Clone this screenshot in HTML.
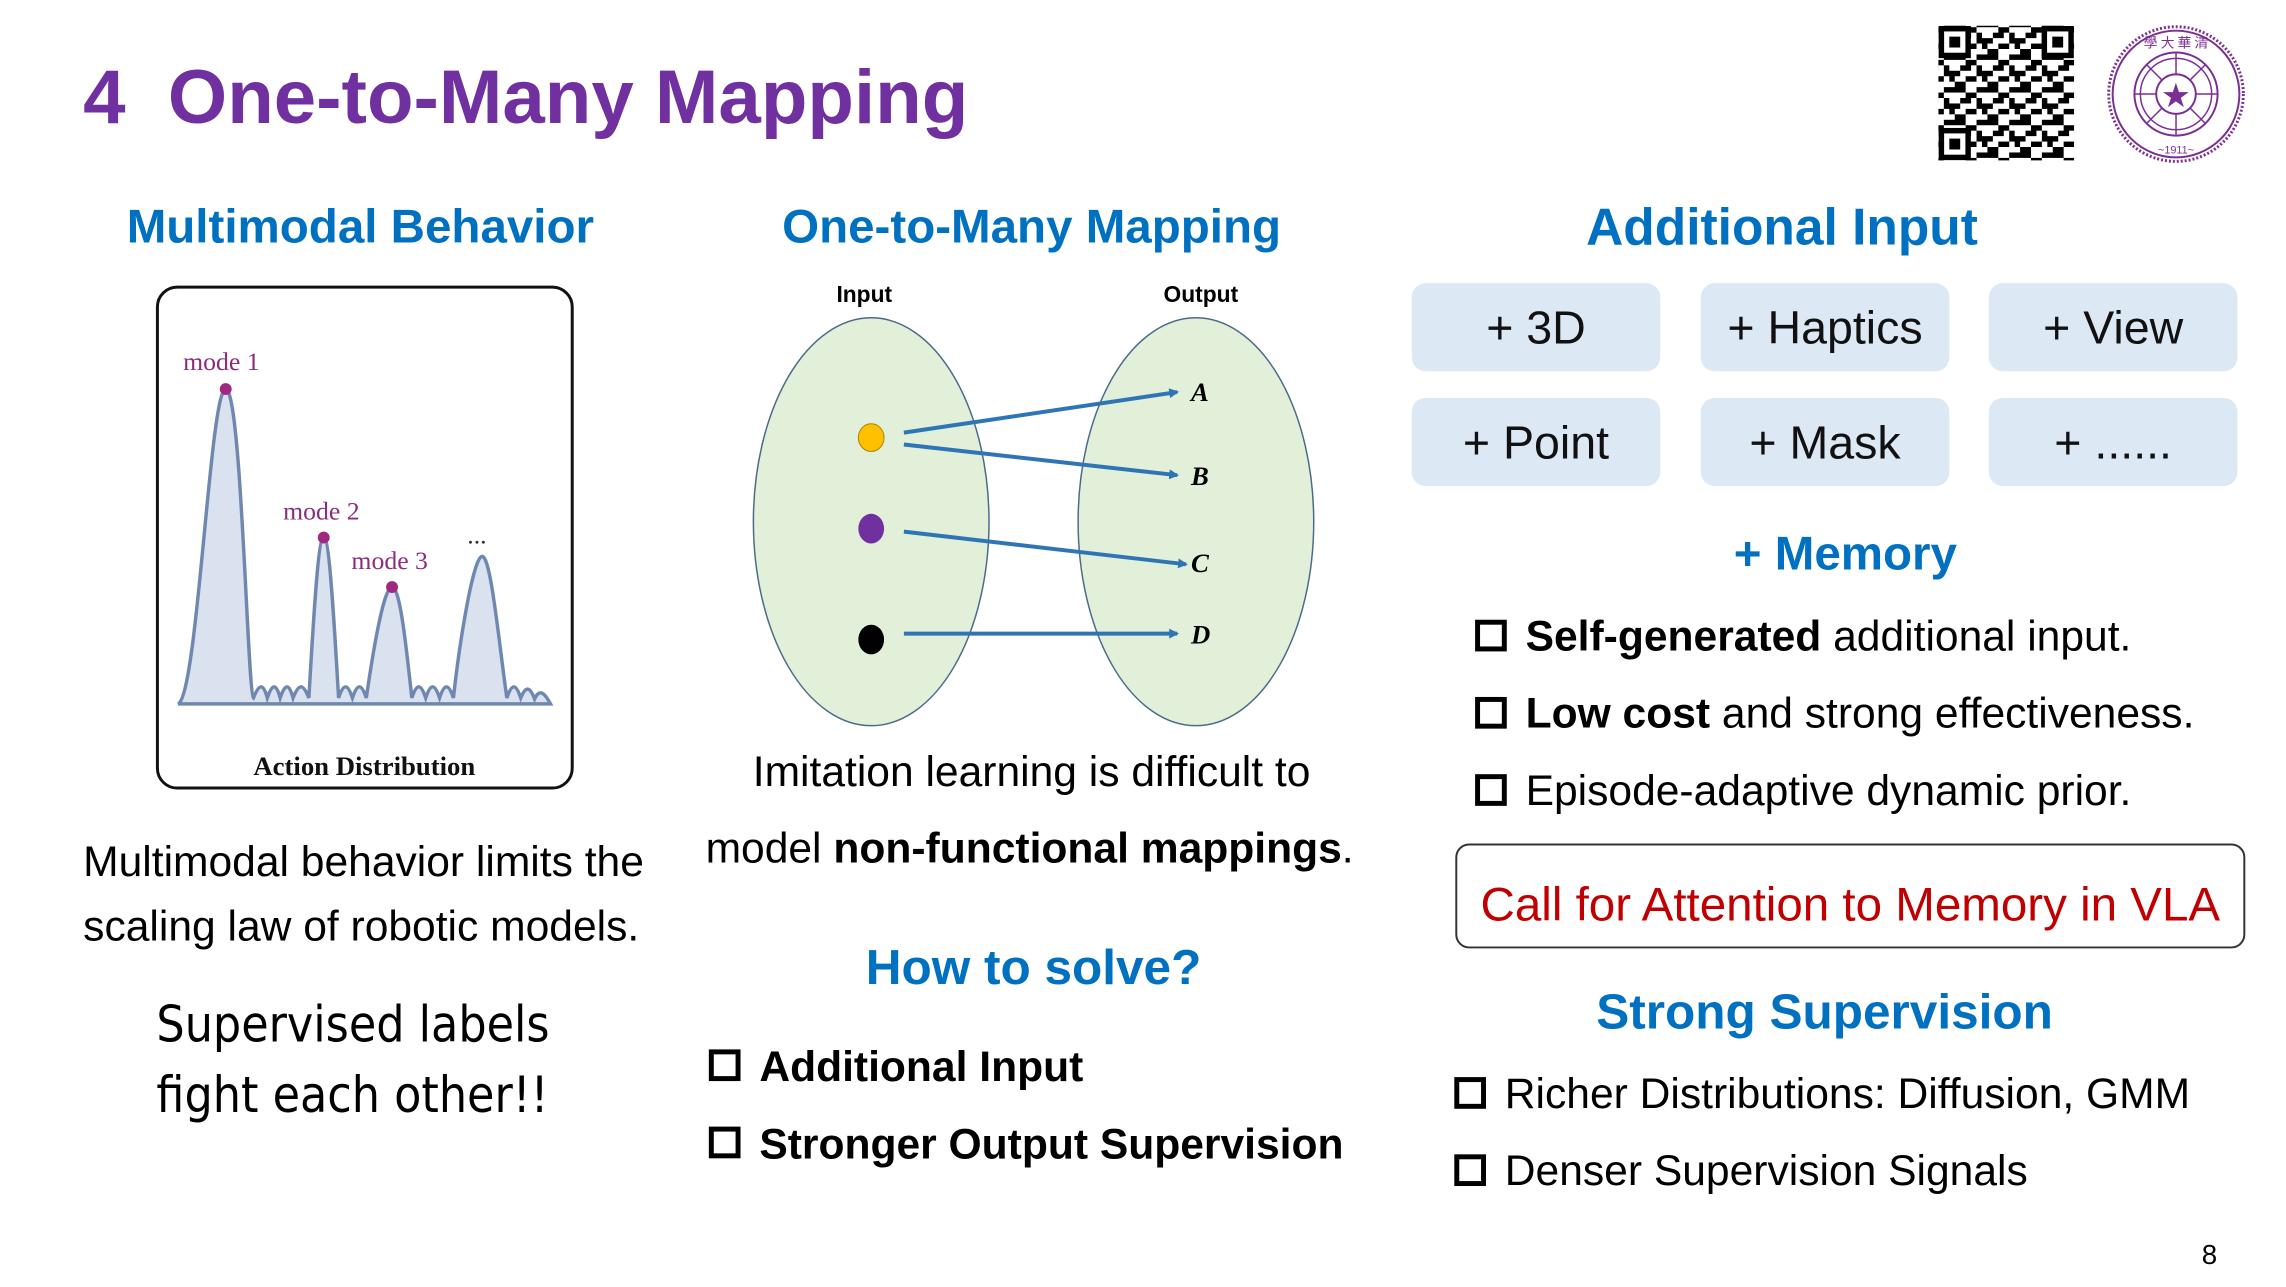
<!DOCTYPE html>
<html><head><meta charset="utf-8"><style>
html,body{margin:0;padding:0;background:#fff}
body{width:2286px;height:1286px;overflow:hidden;position:relative;font-family:"Liberation Sans",Arial,sans-serif}
#w{position:absolute;left:0;top:0;width:2310px;height:1300px;transform:scale(0.99);transform-origin:0 0}
.a{position:absolute;white-space:nowrap;line-height:1}
.h{color:#0070c0;font-weight:bold;font-size:48px;transform:translateX(-50%)}
.box{position:absolute;background:#dde8f5;border-radius:14px;width:251px;height:89px;display:flex;align-items:center;justify-content:center;font-size:47px;color:#111}
.cb{position:absolute;width:22px;height:22px;border:5px solid #000}
.t{font-size:43px;color:#000}
</style></head><body><div id="w">
<div class="a" style="left:84px;top:60px;font-size:77px;font-weight:bold;color:#7030a0">4&nbsp; One-to-Many Mapping</div>

<svg class="a" style="left:0;top:0" width="2310" height="1300">
<defs>
<pattern id="qr" width="33" height="33" patternUnits="userSpaceOnUse">
<rect x="0" y="0" width="11" height="5.5" fill="#000"/><rect x="16.5" y="0" width="5.5" height="11" fill="#000"/>
<rect x="5.5" y="11" width="11" height="5.5" fill="#000"/><rect x="22" y="5.5" width="11" height="5.5" fill="#000"/>
<rect x="0" y="16.5" width="5.5" height="11" fill="#000"/><rect x="16.5" y="22" width="11" height="5.5" fill="#000"/>
<rect x="27.5" y="16.5" width="5.5" height="11" fill="#000"/><rect x="11" y="27.5" width="5.5" height="5.5" fill="#000"/>
<rect x="5.5" y="27.5" width="5.5" height="5.5" fill="#000"/><rect x="22" y="11" width="5.5" height="5.5" fill="#000"/>
</pattern>
<marker id="ar" markerWidth="10" markerHeight="10" refX="8" refY="5" orient="auto" markerUnits="userSpaceOnUse"><path d="M0,0 L10,5 L0,10 z" fill="#2e75b6"/></marker>
</defs>
<rect x="1958" y="26" width="137" height="136" fill="url(#qr)"/>
<g fill="none" stroke="#000" stroke-width="5.5">
<rect x="1961" y="29" width="27" height="27" fill="#fff"/><rect x="2065" y="29" width="27" height="27" fill="#fff"/><rect x="1961" y="132" width="27" height="27" fill="#fff"/></g>
<rect x="1969" y="37" width="11" height="11"/><rect x="2073" y="37" width="11" height="11"/><rect x="1969" y="140" width="11" height="11"/>
<g fill="none" stroke="#7b2f93">
<circle cx="2198" cy="95" r="68" stroke-width="3" stroke-dasharray="2 2"/>
<circle cx="2198" cy="95" r="64" stroke-width="2"/>
<circle cx="2198" cy="95" r="42" stroke-width="2"/>
<circle cx="2198" cy="95" r="36" stroke-width="1.5"/>
<circle cx="2198" cy="95" r="20" stroke-width="2"/>
<path d="M2198,53 V75 M2198,115 V137 M2156,95 H2178 M2218,95 H2240 M2168,65 L2184,81 M2212,109 L2228,125 M2228,65 L2212,81 M2184,109 L2168,125" stroke-width="1.5"/>
</g>
<text x="2198" y="108" font-size="34" fill="#7b2f93" text-anchor="middle">★</text>
<text x="2198" y="155" font-size="11" fill="#7b2f93" text-anchor="middle">~1911~</text>
<text x="2198" y="48" font-size="14" fill="#7b2f93" text-anchor="middle" font-family="Noto Sans CJK SC,sans-serif">學 大 華 清</text>

<rect x="159" y="290" width="419" height="506" rx="20" fill="#fff" stroke="#111" stroke-width="3"/>
<path d="M180,711 C200,700 212,393 228,393 C244,393 250,700 256,705 C262,690 266,690 270,705 C275,690 279,690 283,705 C288,690 292,690 296,705 C302,690 306,690 312,705 C318,600 322,543 327,543 C332,543 336,600 342,705 C347,690 351,690 356,705 C361,690 365,690 370,705 C378,650 388,593 396,593 C404,593 410,650 416,705 C421,690 425,690 430,705 C435,690 439,690 444,705 C449,690 453,690 458,705 C464,650 478,562 487,562 C496,562 504,650 512,705 C517,690 521,690 526,705 C531,693 535,693 540,706 C545,695 550,700 556,711 Z" fill="#dbe2ef" stroke="#7088b0" stroke-width="3.5"/>
<g fill="#a0287e"><circle cx="228" cy="393" r="6"/><circle cx="327" cy="543" r="6"/><circle cx="396" cy="593" r="6"/></g>
<g font-family="Liberation Serif,serif" font-size="26" fill="#8b2c7e">
<text x="185" y="374">mode 1</text><text x="286" y="525">mode 2</text><text x="355" y="575">mode 3</text><text x="472" y="549" fill="#333">...</text></g>
<text x="368" y="783" font-family="Liberation Serif,serif" font-size="27" font-weight="bold" text-anchor="middle" fill="#111">Action Distribution</text>

<text x="873" y="305" font-size="23" font-weight="bold" text-anchor="middle">Input</text>
<text x="1213" y="305" font-size="23" font-weight="bold" text-anchor="middle">Output</text>
<ellipse cx="880" cy="527" rx="119" ry="206" fill="#e2efd9" stroke="#4a6b8a" stroke-width="1.5"/>
<ellipse cx="1208" cy="527" rx="119" ry="206" fill="#e2efd9" stroke="#4a6b8a" stroke-width="1.5"/>
<ellipse cx="880" cy="442" rx="13" ry="14" fill="#ffc000" stroke="#b08000" stroke-width="1"/>
<ellipse cx="880" cy="534" rx="13" ry="15" fill="#7030a0"/>
<ellipse cx="880" cy="646" rx="13" ry="15" fill="#000"/>
<g stroke="#2e75b6" stroke-width="4" marker-end="url(#ar)">
<line x1="913" y1="437" x2="1189" y2="396"/><line x1="913" y1="449" x2="1189" y2="480"/>
<line x1="913" y1="537" x2="1198" y2="570"/><line x1="913" y1="640" x2="1189" y2="640"/></g>
<g font-family="Liberation Serif,serif" font-size="27" font-weight="bold" font-style="italic">
<text x="1203" y="405">A</text><text x="1203" y="490">B</text><text x="1203" y="578">C</text><text x="1203" y="650">D</text></g>
</svg>

<div class="a h" style="left:364px;top:206px">Multimodal Behavior</div>
<div class="a h" style="left:1042px;top:206px">One-to-Many Mapping</div>
<div class="a h" style="left:1800px;top:204px;font-size:52px">Additional Input</div>

<div class="a t" style="left:84px;top:850px">Multimodal behavior limits the</div>
<div class="a t" style="left:84px;top:915px">scaling law of robotic models.</div>
<div class="a" style="left:158px;top:1010px;font-size:50px;font-family:'DejaVu Sans Condensed','DejaVu Sans',sans-serif">Supervised labels</div>
<div class="a" style="left:158px;top:1081px;font-size:50px;font-family:'DejaVu Sans Condensed','DejaVu Sans',sans-serif">fight each other!!</div>

<div class="a t" style="left:1042px;top:759px;transform:translateX(-50%)">Imitation learning is difficult to</div>
<div class="a t" style="left:1040px;top:836px;transform:translateX(-50%)">model <b>non-functional mappings</b>.</div>
<div class="a h" style="left:1044px;top:952px;font-size:50px">How to solve?</div>
<div class="cb" style="left:716px;top:1060px"></div>
<div class="a t" style="left:767px;top:1057px;font-weight:bold">Additional Input</div>
<div class="cb" style="left:716px;top:1138px"></div>
<div class="a t" style="left:767px;top:1135px;font-weight:bold">Stronger Output Supervision</div>

<div class="box" style="left:1426px;top:286px">+ 3D</div>
<div class="box" style="left:1718px;top:286px">+ Haptics</div>
<div class="box" style="left:2009px;top:286px">+ View</div>
<div class="box" style="left:1426px;top:402px">+ Point</div>
<div class="box" style="left:1718px;top:402px">+ Mask</div>
<div class="box" style="left:2009px;top:402px">+ ......</div>

<div class="a h" style="left:1864px;top:536px">+ Memory</div>
<div class="cb" style="left:1490px;top:626px"></div>
<div class="a t" style="left:1541px;top:622px"><b>Self-generated</b> additional input.</div>
<div class="cb" style="left:1490px;top:704px"></div>
<div class="a t" style="left:1541px;top:700px"><b>Low cost</b> and strong effectiveness.</div>
<div class="cb" style="left:1490px;top:782px"></div>
<div class="a t" style="left:1541px;top:778px">Episode-adaptive dynamic prior.</div>

<div class="a" style="left:1470px;top:852px;width:794px;height:102px;border:2px solid #333;border-radius:14px"></div>
<div class="a" style="left:1869px;top:891px;transform:translateX(-50%);font-size:48px;color:#c00000">Call for Attention to Memory in VLA</div>

<div class="a h" style="left:1843px;top:997px;font-size:50px">Strong Supervision</div>
<div class="cb" style="left:1469px;top:1088px"></div>
<div class="a t" style="left:1520px;top:1084px">Richer Distributions: Diffusion, GMM</div>
<div class="cb" style="left:1469px;top:1166px"></div>
<div class="a t" style="left:1520px;top:1162px">Denser Supervision Signals</div>

<div class="a" style="left:2224px;top:1254px;font-size:28px">8</div>
</div></body></html>
